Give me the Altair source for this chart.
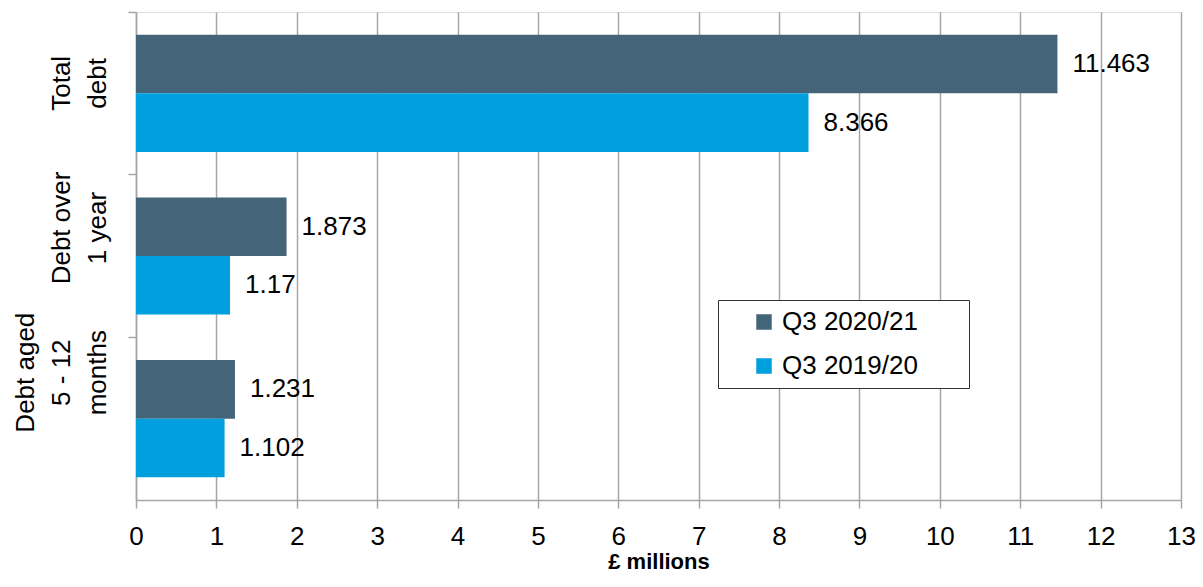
import altair as alt
import pandas as pd

categories = ["Total debt", "Debt over 1 year", "Debt aged 5 - 12 months"]
series = ["Q3 2020/21", "Q3 2019/20"]
values_2021 = [11.463, 1.873, 1.231]
values_1920 = [8.366, 1.17, 1.102]
colors = ["#446579", "#00a0df"]
x_ticks = list(range(0, 14))

rows = []
for c, v in zip(categories, values_2021):
    rows.append({"category": c, "series": series[0], "value": v})
for c, v in zip(categories, values_1920):
    rows.append({"category": c, "series": series[1], "value": v})
df = pd.DataFrame(rows)

label_expr = (
    "datum.value == 'Total debt' ? ['Total', 'debt'] : "
    "datum.value == 'Debt over 1 year' ? ['Debt over', '1 year'] : "
    "['Debt aged', '5 - 12', 'months']"
)

FONT = "Liberation Sans"
GRID = "#a6a6a6"

y_enc = alt.Y(
    "category:N",
    sort=categories,
    title=None,
    scale=alt.Scale(paddingInner=0.28, paddingOuter=0.14),
    axis=alt.Axis(
        labelExpr=label_expr,
        labelAngle=270,
        labelAlign="center",
        labelBaseline="bottom",
        labelFontSize=26,
        labelLineHeight=36,
        labelFont=FONT,
        labelColor="#000000",
        labelPadding={
            "condition": [
                {"test": "datum.value == 'Debt aged 5 - 12 months'", "value": 90},
            ],
            "value": 54,
        },
        bandPosition=-0.1944,
        labelOffset={
            "condition": [
                {"test": "datum.value == 'Total debt'", "value": -10},
                {"test": "datum.value == 'Debt over 1 year'", "value": -28},
            ],
            "value": -46,
        },
        tickSize=8,
        tickColor=GRID,
        tickWidth=1.5,
        domainColor=GRID,
        domainWidth=1.5,
        grid=False,
    ),
)

x_enc = alt.X(
    "value:Q",
    title="£ millions",
    scale=alt.Scale(domain=[0, 13], nice=False),
    axis=alt.Axis(
        values=x_ticks,
        format="d",
        labelFlush=False,
        labelFontSize=26,
        labelFont=FONT,
        labelColor="#000000",
        labelPadding=15,
        tickSize=8,
        tickColor=GRID,
        tickWidth=1.5,
        domainColor=GRID,
        domainWidth=1.5,
        grid=True,
        gridColor=GRID,
        gridWidth=1.5,
        titleFontSize=22,
        titleFont=FONT,
        titleFontWeight="bold",
        titleColor="#000000",
        titleY=51,
        titleBaseline="top",
    ),
)

base = alt.Chart(df)

bars = base.mark_bar().encode(
    x=x_enc,
    y=y_enc,
    yOffset=alt.YOffset("series:N", sort=series, scale=alt.Scale(paddingInner=0, paddingOuter=0)),
    color=alt.Color(
        "series:N",
        sort=series,
        scale=alt.Scale(domain=series, range=colors),
        legend=alt.Legend(
            title=None,
            orient="none",
            legendX=582,
            legendY=288,
            fillColor="#ffffff",
            strokeColor="#333333",
            padding=9,
            symbolOffset=24,
            symbolType="square",
            symbolSize=240,
            symbolStrokeWidth=0,
            labelFontSize=26,
            labelFont=FONT,
            labelColor="#000000",
            labelOffset=5,
            labelLimit=400,
            rowPadding=18,
            labelExpr="datum.label + '     \u2009\u200b'",
        ),
    ),
)

texts = base.mark_text(
    align="left", baseline="middle", dx=15, fontSize=26, font=FONT, color="#000000"
).encode(
    x=alt.X("value:Q"),
    y=alt.Y("category:N", sort=categories),
    yOffset=alt.YOffset("series:N", sort=series),
    text=alt.Text("value:Q"),
)

chart = (
    alt.layer(bars, texts)
    .properties(
        width=1045,
        height=488,
        autosize=alt.AutoSizeParams(type="none"),
        padding={"left": 128, "top": 4, "right": 14, "bottom": 74},
    )
    .configure_view(stroke=None)
    .configure(background="#ffffff")
)

chart.save("out.html", embed_options={"renderer": "svg", "actions": False})
